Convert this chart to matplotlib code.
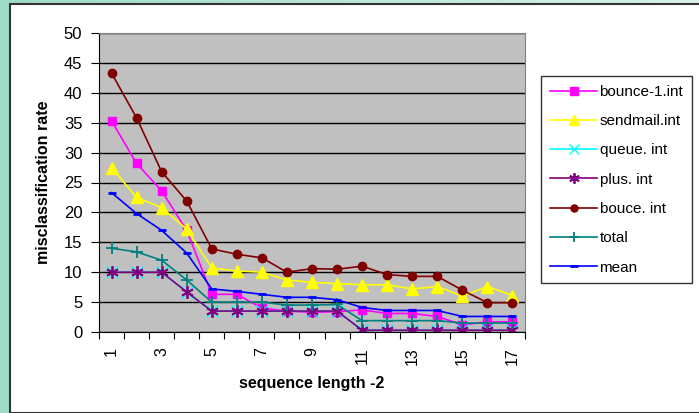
import matplotlib.pyplot as plt
import numpy as np
from matplotlib.patches import Rectangle

seq = np.arange(1, 18)
bounce1 = [35.3, 28.2, 23.6, 17.0, 6.3, 6.3, 4.0, 3.5, 3.3, 3.4, 3.7, 3.1, 3.1, 2.6, 1.2, 1.7, 1.7]
sendmail = [27.5, 22.5, 20.8, 17.2, 10.7, 10.2, 10.0, 8.7, 8.3, 8.1, 7.9, 7.9, 7.2, 7.6, 6.0, 7.6, 6.1]
plus = [10.0, 10.0, 10.0, 6.7, 3.5, 3.5, 3.5, 3.5, 3.5, 3.5, 0.3, 0.3, 0.3, 0.3, 0.3, 0.3, 0.3]
queue = plus
bouce = [43.3, 35.8, 26.8, 21.9, 13.9, 13.0, 12.4, 10.0, 10.6, 10.5, 11.0, 9.6, 9.3, 9.3, 7.0, 4.9, 4.9]
total = [14.0, 13.4, 12.0, 8.7, 5.0, 5.0, 5.0, 4.5, 4.5, 4.6, 1.9, 1.9, 1.9, 1.9, 1.5, 1.5, 1.5]
mean = [23.3, 19.8, 17.0, 13.2, 7.2, 6.8, 6.3, 5.8, 5.8, 5.4, 4.1, 3.6, 3.6, 3.6, 2.6, 2.6, 2.6]
xlabels = [str(i) for i in range(1, 18, 2)]

plt.rcParams['font.family'] = ['Liberation Sans', 'DejaVu Sans']

fig = plt.figure(figsize=(6.99, 4.13), dpi=100)

# teal slide background
bg = fig.add_axes([0, 0, 1, 1])
grad = np.linspace(0, 1, 200)[None, :] * np.ones((50, 1))
bg.imshow(grad, cmap=plt.matplotlib.colors.LinearSegmentedColormap.from_list('t', ['#9edcc8', '#d8f2ea']),
          aspect='auto', extent=[0, 1, 0, 1])
bg.add_patch(Rectangle((10 / 699, 0), 1, 1 - 4 / 413, facecolor='white', edgecolor='#333333', lw=1.5))
bg.set_xlim(0, 1)
bg.set_ylim(0, 1)
bg.axis('off')

ax = fig.add_axes([99 / 699, 1 - 332 / 413, 426 / 699, 299 / 413])
ax.set_facecolor('#c0c0c0')

ax.plot(seq, bounce1, color='#ff00ff', marker='s', ms=6, lw=1.2, label='bounce-1.int')
ax.plot(seq, sendmail, color='#ffff00', marker='^', ms=8, lw=1.2, label='sendmail.int')
ax.plot(seq, queue, color='#00ffff', marker='x', ms=8, lw=1.2, label='queue. int')
ax.plot(seq, plus, color='#800080', marker=(6, 2, 0), ms=9, mew=1.3, lw=1.2, label='plus. int')
ax.plot(seq, bouce, color='#800000', marker='o', ms=6, lw=1.2, label='bouce. int')
ax.plot(seq, total, color='#008080', marker='+', ms=9, mew=1.3, lw=1.2, label='total')
ax.plot(seq, mean, color='#0000ff', marker='_', ms=6, mew=2, lw=1.2, label='mean')

ax.set_xlim(0.5, 17.5)
ax.set_ylim(0, 50)
ax.set_yticks(range(0, 51, 5))
ax.yaxis.grid(True, color='black', lw=1)
ax.set_axisbelow(True)

ax.set_xticks(np.arange(0.5, 18, 1))
ax.set_xticklabels([])
ax.set_xticks(np.arange(1, 18, 2), minor=True)
ax.set_xticklabels(xlabels, minor=True, rotation=90, fontsize=11.5)
ax.tick_params(axis='x', which='minor', length=0, pad=11)
ax.tick_params(axis='x', which='major', length=5, direction='out')
ax.tick_params(axis='y', length=6, direction='out', labelsize=12, pad=6)

for s in ['top', 'right']:
    ax.spines[s].set_color('#808080')
ax.spines['left'].set_color('black')
ax.spines['bottom'].set_color('black')

ax.set_ylabel('misclassification rate', fontsize=11.5, fontweight='bold', labelpad=9)
ax.set_xlabel('sequence length -2', fontsize=11.5, fontweight='bold', labelpad=8)

leg = fig.legend(loc='upper left', bbox_to_anchor=(541 / 699, 1 - 76 / 413), fontsize=11,
                 frameon=True, fancybox=False, edgecolor='black', borderpad=0.58,
                 borderaxespad=0, labelspacing=1.0, handlelength=3.1, handletextpad=0.15,
                 markerscale=0.85)
leg.get_frame().set_linewidth(1)

fig.savefig('out.png', dpi=100)
